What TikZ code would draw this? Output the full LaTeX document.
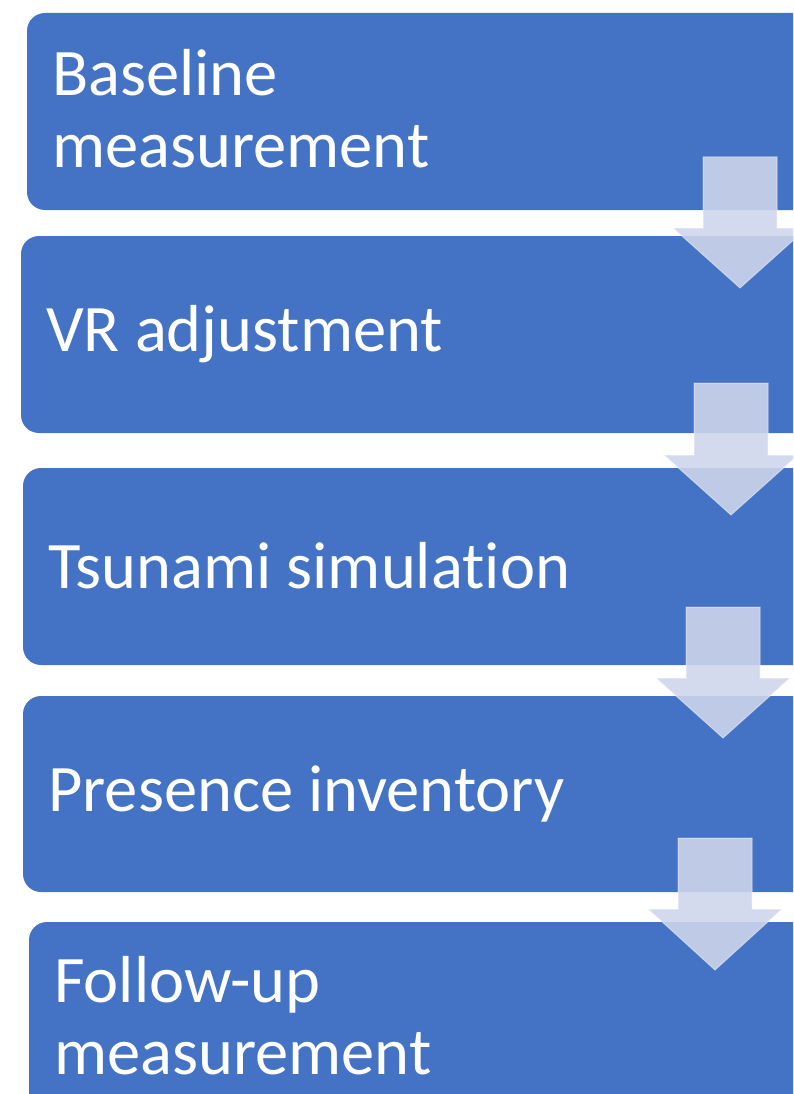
\documentclass[tikz,border=0pt]{standalone}
\usepackage{fontspec}
\setmainfont{Carlito}[Ligatures={NoCommon}]
\definecolor{boxblue}{HTML}{4472C4}
\definecolor{arrowfill}{HTML}{CFD5EB}
\begin{document}
\begin{tikzpicture}[x=1pt,y=-1pt,
  stepbox/.style={fill=boxblue, rounded corners=18pt},
  steplabel/.style={anchor=west, text=white, font=\fontsize{66.5}{72}\selectfont, align=left, inner sep=0pt},
  flowarrow/.style={fill=arrowfill, fill opacity=0.89, draw=white, draw opacity=0.45, line width=1pt},
  pics/blockarrow/.style args={#1/#2/#3/#4}{code={
    \path[flowarrow] (#1-37,#2) -- (#1+37,#2) -- (#1+37,#3) -- (#1+67,#3) -- (#1,#4) -- (#1-67,#3) -- (#1-37,#3) -- cycle;
  }}]
\useasboundingbox (0,0) rectangle (793,1094);
\clip (0,0) rectangle (793,1094);
% boxes
\path[stepbox] (27,13) rectangle (830,210);
\path[stepbox] (21,236) rectangle (830,433);
\path[stepbox] (23,468) rectangle (830,665);
\path[stepbox] (23,696) rectangle (830,892);
\path[stepbox] (29,922) rectangle (830,1119);
% labels
\node[steplabel] (b1) at (52,109) {Baseline\\measurement};
\node[steplabel] (b2) at (46,334) {VR adjustment};
\node[steplabel] (b3) at (48,566) {Tsunami simulation};
\node[steplabel] (b4) at (48,794) {Presence inventory};
\node[steplabel] (b5) at (54,1016) {Follow-up\\measurement};
% arrows
\pic {blockarrow={740/157/228/288}};
\pic {blockarrow={731/383/455/515}};
\pic {blockarrow={723/607/678/738}};
\pic {blockarrow={715/838/909/970}};
\end{tikzpicture}
\end{document}
